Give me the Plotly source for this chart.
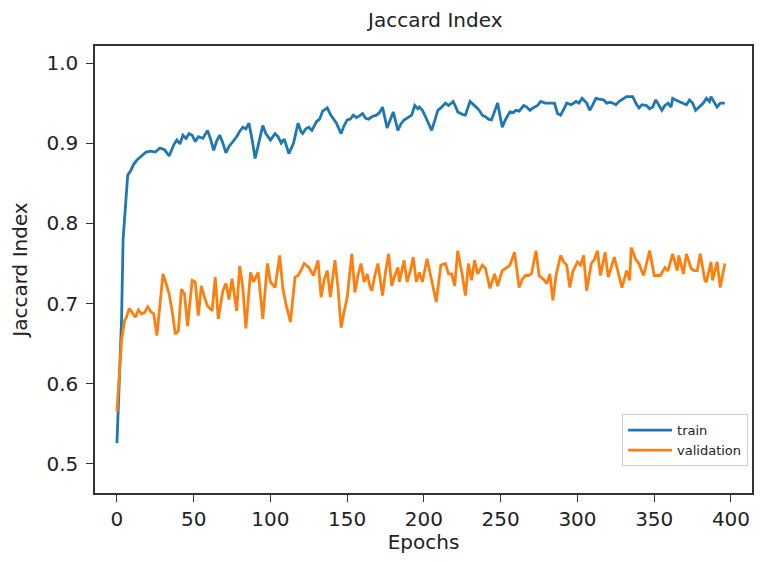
import plotly.graph_objects as go

# ---- data ----
train_epochs = [0, 1, 2, 3, 4, 5, 6, 7, 9, 11, 13, 16, 19, 22, 25, 28, 31, 34, 37, 39, 41, 43, 45, 47, 49,
                51, 53, 56, 59, 61, 63, 65, 67, 69, 71, 73, 76, 78, 80, 82, 84, 86, 88, 90, 92, 95, 97,
                100, 103, 105, 107, 109, 112, 115, 118, 120, 121, 123, 125, 127, 130, 132, 134, 137, 139,
                141, 143, 146, 148, 150, 152, 154, 156, 158, 160, 162, 164, 166, 169, 171, 173, 176, 178,
                180, 183, 185, 187, 190, 192, 194, 196, 197, 199, 201, 203, 205, 207, 209, 211, 214, 216,
                219, 221, 222, 225, 227, 230, 232, 234, 236, 238, 240, 242, 244, 246, 248, 251, 253, 256,
                258, 260, 262, 265, 267, 269, 271, 274, 276, 279, 282, 285, 287, 289, 291, 293, 296, 299,
                301, 303, 306, 308, 310, 312, 314, 317, 319, 321, 323, 325, 327, 330, 332, 334, 336, 338,
                340, 342, 345, 347, 349, 351, 353, 355, 357, 359, 361, 362, 365, 368, 371, 373, 375, 377,
                380, 382, 384, 386, 387, 389, 391, 393, 396]
train_values = [0.526, 0.58, 0.63, 0.68, 0.78, 0.81, 0.84, 0.86, 0.866, 0.874, 0.879, 0.884, 0.889, 0.890,
                0.889, 0.894, 0.892, 0.884, 0.898, 0.904, 0.899, 0.910, 0.906, 0.912, 0.910, 0.902, 0.908,
                0.906, 0.916, 0.905, 0.891, 0.903, 0.910, 0.900, 0.888, 0.896, 0.904, 0.908, 0.915, 0.920,
                0.918, 0.925, 0.905, 0.881, 0.897, 0.922, 0.912, 0.904, 0.912, 0.908, 0.900, 0.905, 0.887,
                0.900, 0.925, 0.914, 0.912, 0.918, 0.920, 0.916, 0.927, 0.930, 0.940, 0.944, 0.936, 0.931,
                0.925, 0.912, 0.922, 0.929, 0.930, 0.935, 0.932, 0.934, 0.937, 0.931, 0.930, 0.933, 0.935,
                0.938, 0.945, 0.919, 0.930, 0.939, 0.916, 0.924, 0.929, 0.932, 0.935, 0.947, 0.943, 0.945,
                0.941, 0.933, 0.925, 0.916, 0.928, 0.941, 0.944, 0.950, 0.947, 0.952, 0.944, 0.939, 0.936,
                0.935, 0.952, 0.949, 0.945, 0.941, 0.935, 0.933, 0.930, 0.929, 0.940, 0.950, 0.920, 0.929,
                0.939, 0.938, 0.941, 0.940, 0.947, 0.945, 0.941, 0.944, 0.947, 0.952, 0.950, 0.950, 0.950,
                0.937, 0.935, 0.942, 0.950, 0.948, 0.952, 0.950, 0.956, 0.950, 0.941, 0.948, 0.956, 0.955,
                0.954, 0.950, 0.951, 0.950, 0.948, 0.952, 0.955, 0.958, 0.958, 0.958, 0.950, 0.944, 0.948,
                0.947, 0.943, 0.945, 0.954, 0.948, 0.941, 0.947, 0.950, 0.945, 0.956, 0.953, 0.950, 0.948,
                0.954, 0.950, 0.941, 0.946, 0.950, 0.956, 0.952, 0.958, 0.952, 0.945, 0.950, 0.950]

val_epochs = [0, 1, 2, 3, 5, 6, 8, 10, 12, 14, 16, 18, 20, 22, 24, 26, 28, 30, 32, 34, 36, 38, 40, 42, 44,
              46, 49, 51, 53, 55, 57, 59, 62, 64, 66, 68, 69, 71, 73, 75, 78, 80, 82, 84, 87, 89, 92, 95,
              98, 100, 103, 106, 108, 110, 113, 116, 118, 120, 122, 125, 128, 131, 133, 135, 137, 139, 142,
              144, 146, 148, 150, 153, 155, 157, 159, 161, 163, 165, 166, 168, 170, 173, 175, 177, 179, 181,
              183, 184, 187, 189, 191, 193, 195, 197, 199, 202, 205, 208, 211, 214, 216, 218, 220, 222, 225,
              227, 229, 231, 233, 235, 238, 240, 243, 246, 248, 251, 254, 256, 259, 262, 264, 266, 268, 270,
              273, 275, 278, 280, 282, 284, 286, 289, 291, 293, 295, 297, 300, 302, 304, 306, 309, 311, 313,
              315, 318, 320, 322, 324, 327, 329, 332, 334, 335, 338, 340, 343, 345, 347, 350, 352, 354, 357,
              359, 362, 365, 366, 369, 371, 374, 376, 378, 380, 383, 384, 387, 388, 391, 393, 396]
val_values = [0.565, 0.600, 0.629, 0.655, 0.679, 0.682, 0.694, 0.688, 0.683, 0.692, 0.687, 0.689, 0.696,
              0.690, 0.687, 0.660, 0.700, 0.737, 0.725, 0.712, 0.690, 0.662, 0.666, 0.718, 0.712, 0.672,
              0.729, 0.727, 0.685, 0.722, 0.708, 0.697, 0.691, 0.733, 0.681, 0.705, 0.716, 0.725, 0.705,
              0.731, 0.691, 0.747, 0.720, 0.669, 0.739, 0.727, 0.739, 0.681, 0.750, 0.727, 0.720, 0.760,
              0.720, 0.700, 0.677, 0.733, 0.735, 0.742, 0.750, 0.745, 0.735, 0.754, 0.708, 0.730, 0.741,
              0.708, 0.754, 0.720, 0.670, 0.690, 0.708, 0.762, 0.714, 0.735, 0.750, 0.727, 0.737, 0.720,
              0.716, 0.735, 0.750, 0.710, 0.740, 0.762, 0.722, 0.735, 0.745, 0.727, 0.754, 0.727, 0.740,
              0.758, 0.727, 0.739, 0.727, 0.756, 0.729, 0.702, 0.748, 0.750, 0.737, 0.737, 0.722, 0.766,
              0.735, 0.710, 0.750, 0.729, 0.754, 0.737, 0.748, 0.744, 0.719, 0.737, 0.722, 0.741, 0.745,
              0.748, 0.764, 0.720, 0.730, 0.735, 0.735, 0.737, 0.766, 0.735, 0.730, 0.725, 0.737, 0.704,
              0.735, 0.760, 0.752, 0.748, 0.720, 0.740, 0.752, 0.748, 0.760, 0.716, 0.750, 0.755, 0.766,
              0.735, 0.764, 0.733, 0.745, 0.758, 0.735, 0.720, 0.741, 0.729, 0.770, 0.755, 0.750, 0.735,
              0.750, 0.766, 0.735, 0.735, 0.735, 0.745, 0.741, 0.762, 0.741, 0.760, 0.737, 0.762, 0.744,
              0.741, 0.741, 0.762, 0.729, 0.727, 0.752, 0.729, 0.752, 0.720, 0.750]

x_ticks = [0, 50, 100, 150, 200, 250, 300, 350, 400]
y_ticks = [0.5, 0.6, 0.7, 0.8, 0.9, 1.0]

FONT = "DejaVu Sans, Liberation Sans, sans-serif"
TXT = "#222222"

fig = go.Figure()
fig.add_trace(go.Scatter(x=train_epochs, y=train_values, mode="lines", name="train",
                         line=dict(color="#1f77b4", width=2.8)))
fig.add_trace(go.Scatter(x=val_epochs, y=val_values, mode="lines", name="validation",
                         line=dict(color="#ff7f0e", width=2.8)))

axis_common = dict(showgrid=False, zeroline=False, showline=True, mirror=True, automargin=False,
                   linecolor="#333333", linewidth=1.5, ticks="outside", ticklen=7,
                   tickcolor="#333333", tickwidth=1.3,
                   tickfont=dict(family=FONT, size=20, color=TXT))

# The page body adds an 8px margin, so the figure is sized to fit the 763x562 window.
fig.update_layout(
    width=747, height=546,
    margin=dict(l=87, r=3, t=38, b=61),
    paper_bgcolor="white", plot_bgcolor="white",
    title=dict(text="Jaccard Index", x=0.572, xref="container", xanchor="center",
               y=1 - 12 / 546, yref="container", yanchor="middle",
               font=dict(family=FONT, size=20, color=TXT)),
    xaxis=dict(range=[-14.3, 413.7], tickvals=x_ticks, ticklabelstandoff=0,
               title=dict(text="Epochs", standoff=9, font=dict(family=FONT, size=20, color=TXT)),
               **axis_common),
    yaxis=dict(range=[0.4638, 1.0212], tickvals=y_ticks, tickformat=".1f", ticklabelstandoff=4,
               title=dict(text="Jaccard Index", standoff=14, font=dict(family=FONT, size=20, color=TXT)),
               **axis_common),
    legend=dict(x=0.994, y=0.06, xanchor="right", yanchor="bottom",
                bgcolor="white", bordercolor="#cccccc", borderwidth=1,
                font=dict(family=FONT, size=13, color=TXT),
                itemwidth=44, tracegroupgap=0),
    showlegend=True,
)

fig.write_html("out.html")
